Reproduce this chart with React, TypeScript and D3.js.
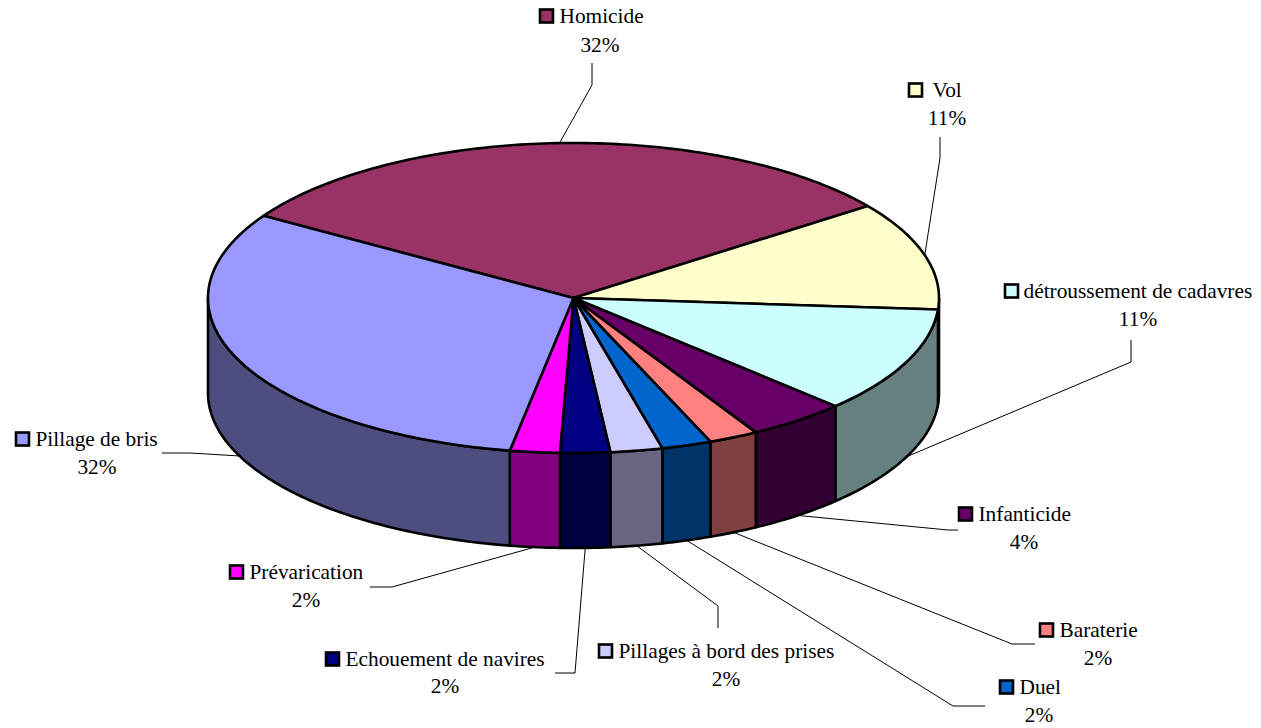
import React from "react";
import * as d3 from "d3";

const WIDTH = 1261;
const HEIGHT = 728;

const CENTER_X = 573.5;
const CENTER_Y = 298;
const RADIUS_X = 365.5;
const RADIUS_Y = 155;
const DEPTH = 95;
const START_DEG = -58;

const categories = [
  "Homicide",
  "Vol",
  "détroussement de cadavres",
  "Infanticide",
  "Baraterie",
  "Duel",
  "Pillages à bord des prises",
  "Echouement de navires",
  "Prévarication",
  "Pillage de bris",
];

// slice sizes as measured on the picture, printed labels kept apart
const shares = [31.0, 11.3, 11.1, 4.4, 2.2, 2.2, 2.3, 2.2, 2.2, 31.1];
const percentLabels = ["32%", "11%", "11%", "4%", "2%", "2%", "2%", "2%", "2%", "32%"];

const colors = [
  "#993366",
  "#FFFFCC",
  "#CCFFFF",
  "#660066",
  "#FF8080",
  "#0066CC",
  "#CCCCFF",
  "#000080",
  "#FF00FF",
  "#9999FF",
];

// label placement: key x, name x, name baseline, percent centre, percent baseline
const labelLayout = [
  { keyX: 540, textX: 560, y: 23, pctX: 600, pctY: 52 },
  { keyX: 909, textX: 933, y: 97, pctX: 947, pctY: 125 },
  { keyX: 1005, textX: 1024, y: 298, pctX: 1138, pctY: 326 },
  { keyX: 959, textX: 979, y: 521, pctX: 1024, pctY: 549 },
  { keyX: 1040, textX: 1060, y: 637, pctX: 1098, pctY: 665 },
  { keyX: 1000, textX: 1020, y: 694, pctX: 1039, pctY: 722 },
  { keyX: 599, textX: 619, y: 658, pctX: 726, pctY: 686 },
  { keyX: 326, textX: 346, y: 666, pctX: 445, pctY: 693 },
  { keyX: 230, textX: 250, y: 579, pctX: 306, pctY: 607 },
  { keyX: 16, textX: 36, y: 446, pctX: 97, pctY: 474 },
];

// leader elbows, the first point comes from the slice itself
const leaderElbows = [
  [[592, 85], [592, 63]],
  [[940, 158], [940, 137]],
  [[1131, 362], [1131, 340]],
  [[948, 530], [958, 530]],
  [[1012, 644], [1035, 644]],
  [[953, 706], [985, 706]],
  [[718, 606], [718, 628]],
  [[575, 673], [555, 673]],
  [[392, 587], [370, 587]],
  [[190, 453], [162, 453]],
];

const FONT = "'Liberation Serif', 'Times New Roman', serif";

const x = d3.scaleLinear().domain([-1, 1]).range([CENTER_X - RADIUS_X, CENTER_X + RADIUS_X]);
const y = d3.scaleLinear().domain([-1, 1]).range([CENTER_Y + RADIUS_Y, CENTER_Y - RADIUS_Y]);

const toPoint = (a: number, drop = 0): [number, number] => [
  x(Math.sin(a)),
  y(Math.cos(a)) + drop,
];

const sweep = (a0: number, a1: number, drop = 0) => {
  const n = Math.max(2, Math.ceil(Math.abs(a1 - a0) * 60));
  return d3.range(n + 1).map((i) => toPoint(a0 + ((a1 - a0) * i) / n, drop));
};

const line = d3.line();

function halfTone(color: string) {
  const c = d3.rgb(color);
  return d3.rgb(c.r * 0.5, c.g * 0.5, c.b * 0.5).formatHex();
}

export default function App() {
  const start = (START_DEG * Math.PI) / 180;
  const pie = d3
    .pie<number>()
    .sort(null)
    .startAngle(start)
    .endAngle(start + 2 * Math.PI);
  const slices = pie(shares);

  const FRONT_START = Math.PI / 2;
  const FRONT_END = (3 * Math.PI) / 2;

  return (
    <svg
      width={WIDTH}
      height={HEIGHT}
      viewBox={`0 0 ${WIDTH} ${HEIGHT}`}
      style={{ position: "absolute", left: 0, top: 0, background: "#fff" }}
    >
      {/* side wall */}
      {slices.map((s, i) => {
        const a0 = Math.max(s.startAngle, FRONT_START);
        const a1 = Math.min(s.endAngle, FRONT_END);
        if (a1 <= a0) return null;
        const pts = [...sweep(a0, a1), ...sweep(a1, a0, DEPTH)];
        return (
          <path
            key={i}
            d={line(pts) + "Z"}
            fill={halfTone(colors[i])}
            stroke="#000"
            strokeWidth={2.6}
            strokeLinejoin="round"
          />
        );
      })}

      {/* top face */}
      {slices.map((s, i) => {
        const pts = [[CENTER_X, CENTER_Y] as [number, number], ...sweep(s.startAngle, s.endAngle)];
        return (
          <path
            key={i}
            d={line(pts) + "Z"}
            fill={colors[i]}
            stroke="#000"
            strokeWidth={2.6}
            strokeLinejoin="round"
          />
        );
      })}

      {/* leaders */}
      {slices.map((s, i) => {
        const mid = (s.startAngle + s.endAngle) / 2;
        const inFront = mid > FRONT_START && mid < FRONT_END;
        const pts = [toPoint(mid, inFront ? DEPTH : 0), ...leaderElbows[i]] as [number, number][];
        return <path key={i} d={line(pts) ?? ""} fill="none" stroke="#000" strokeWidth={1} />;
      })}

      {/* labels */}
      {categories.map((name, i) => {
        const l = labelLayout[i];
        return (
          <g key={name} fontFamily={FONT} fontSize={21.35} fill="#000">
            <rect
              x={l.keyX}
              y={l.y - 13.5}
              width={13}
              height={13}
              fill={colors[i]}
              stroke="#000"
              strokeWidth={2.6}
            />
            <text x={l.textX - 0.5} y={l.y}>
              {name}
            </text>
            <text x={l.pctX} y={l.pctY} textAnchor="middle">
              {percentLabels[i]}
            </text>
          </g>
        );
      })}
    </svg>
  );
}
